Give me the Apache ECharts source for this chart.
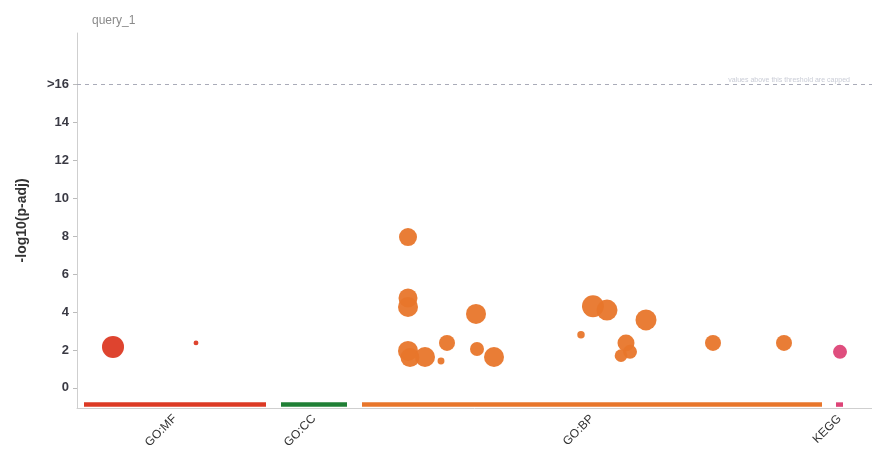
<!DOCTYPE html>
<html>
<head>
<meta charset="utf-8">
<title>query_1</title>
<script src="https://cdn.jsdelivr.net/npm/echarts@6/dist/echarts.min.js"></script>
<style>
  html, body { margin: 0; padding: 0; background: #ffffff; }
  #chart { width: 872px; height: 451px; }
</style>
</head>
<body>
<div id="chart"></div>
<script>
// Data sources laid out along the x axis (term index ranges)
const sourceNames = ['GO:MF', 'GO:CC', 'GO:BP', 'KEGG'];
const sourceStart = [7, 204, 285, 759];
const sourceEnd = [189, 270, 745, 766];

// Enriched terms per source: position, -log10(p-adj), term size
const mfX = [36, 119];
const mfY = [2.16, 2.37];
const mfSize = [121, 6];

const bpX = [331, 331, 331, 399, 370, 400, 331, 333, 348, 364, 417, 504, 516, 530, 569, 549, 553, 544, 636, 707];
const bpY = [7.95, 4.74, 4.26, 3.9, 2.37, 2.05, 1.95, 1.6, 1.63, 1.42, 1.63, 2.8, 4.3, 4.1, 3.58, 2.37, 1.9, 1.7, 2.37, 2.37];
const bpSize = [81, 90, 100, 100, 64, 49, 100, 90, 100, 12, 100, 14, 121, 110, 110, 72, 49, 40, 64, 64];

const keggX = [763];
const keggY = [1.9];
const keggSize = [49];

// Y axis ticks; the top one stands for capped values
const yTicks = [0, 2, 4, 6, 8, 10, 12, 14, 16];
const capValue = 16;

const palette = {
  'GO:MF': '#dc3a24',
  'GO:CC': '#1f7f35',
  'GO:BP': '#e8762b',
  'KEGG': '#dd4477'
};

const Y_MIN = -1.05;
const Y_MAX = 18.7;
const X_MAX = 795;

function points(xs, ys, sizes) {
  return xs.map((x, i) => [x, ys[i], sizes[i]]);
}

const sourceCenters = sourceStart.map((s, i) => (s + sourceEnd[i]) / 2);

function termSeries(name, data) {
  return {
    name: name,
    type: 'scatter',
    data: data,
    symbol: 'circle',
    symbolSize: v => 2 * Math.sqrt(v[2]),
    itemStyle: { color: palette[name], opacity: 0.95 },
    z: 3
  };
}

const chart = echarts.init(document.getElementById('chart'), null, { renderer: 'canvas' });

chart.setOption({
  animation: false,
  backgroundColor: '#ffffff',
  textStyle: { fontFamily: 'Liberation Sans, Arial, sans-serif' },
  title: {
    text: 'query_1',
    left: 87,
    top: 10,
    textStyle: { fontSize: 12, fontWeight: 'normal', color: '#8a8a8a' }
  },
  grid: { left: 77, right: 0, top: 33, bottom: 43, containLabel: false },
  xAxis: {
    type: 'value',
    min: 0,
    max: X_MAX,
    axisLine: { show: true, onZero: false, lineStyle: { color: '#cfcfcf', width: 1 } },
    axisTick: { show: false },
    splitLine: { show: false },
    axisLabel: {
      customValues: sourceCenters,
      rotate: 45,
      fontSize: 12,
      color: '#333333',
      margin: 9,
      formatter: v => {
        const i = sourceCenters.findIndex(c => Math.abs(c - v) < 0.01);
        return i >= 0 ? sourceNames[i] : '';
      }
    }
  },
  yAxis: {
    type: 'value',
    min: Y_MIN,
    max: Y_MAX,
    name: '-log10(p-adj)',
    nameLocation: 'middle',
    nameGap: 48,
    nameRotate: 90,
    nameTextStyle: { fontSize: 14, fontWeight: 'bold', color: '#333333' },
    axisLine: { show: true, lineStyle: { color: '#cfcfcf', width: 1 } },
    axisTick: { show: true, customValues: yTicks, length: 4, lineStyle: { color: '#bbbbbb' } },
    splitLine: { show: false },
    axisLabel: {
      customValues: yTicks,
      fontSize: 13,
      fontWeight: 'bold',
      color: '#3a3a44',
      margin: 8,
      formatter: v => (v === capValue ? '>' + v : String(v))
    }
  },
  series: [
    {
      name: 'sources',
      type: 'custom',
      data: sourceNames.map((n, i) => [sourceStart[i], sourceEnd[i], i]),
      renderItem: (params, api) => {
        const a = api.coord([api.value(0), Y_MIN]);
        const b = api.coord([api.value(1), Y_MIN]);
        return {
          type: 'rect',
          shape: { x: a[0], y: a[1] - 5.5, width: b[0] - a[0], height: 4.5 },
          style: { fill: palette[sourceNames[api.value(2)]] }
        };
      },
      silent: true,
      z: 2
    },
    {
      name: 'cap',
      type: 'line',
      data: [],
      markLine: {
        silent: true,
        symbol: 'none',
        lineStyle: { color: '#a9abb8', type: [4, 4], width: 1 },
        label: {
          show: true,
          position: 'insideEndTop',
          formatter: 'values above this threshold are capped',
          fontSize: 7,
          color: '#c9ccd6',
          distance: [22, 1]
        },
        data: [{ yAxis: capValue }]
      }
    },
    termSeries('GO:MF', points(mfX, mfY, mfSize)),
    termSeries('GO:BP', points(bpX, bpY, bpSize)),
    termSeries('KEGG', points(keggX, keggY, keggSize))
  ]
});
</script>
</body>
</html>
